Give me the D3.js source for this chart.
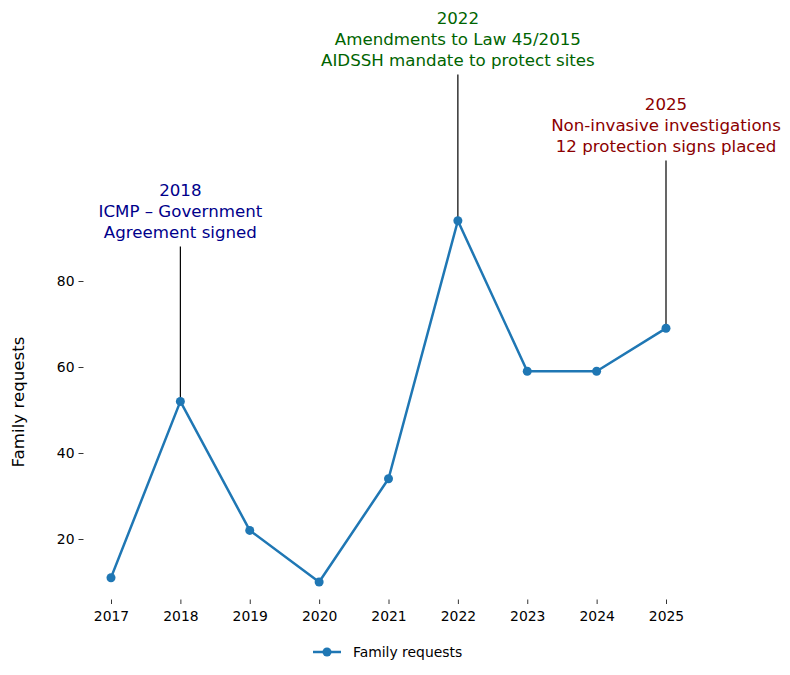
<!DOCTYPE html>
<html>
<head>
<meta charset="utf-8">
<script src="https://cdn.jsdelivr.net/npm/d3@7"></script>
<style>
  html, body { margin: 0; padding: 0; background: #fff; }
  svg { display: block; font-family: "DejaVu Sans", sans-serif; }
</style>
</head>
<body>
<svg id="chart" width="790" height="675"></svg>
<script>
// ---- data ----
const years = [2017, 2018, 2019, 2020, 2021, 2022, 2023, 2024, 2025];
const familyRequests = [11, 52, 22, 10, 34, 94, 59, 59, 69];
const yTicks = [20, 40, 60, 80];
const seriesName = "Family requests";

const annotationYears = [2018, 2022, 2025];
const annotationTextY = [88, 128, 108]; // data-unit level of text bottom
const annotationLines = [
  ["2018", "ICMP – Government", "Agreement signed"],
  ["2022", "Amendments to Law 45/2015", "AIDSSH mandate to protect sites"],
  ["2025", "Non-invasive investigations", "12 protection signs placed"]
];
const annotationColors = ["#00008b", "#006400", "#8b0000"];

// ---- layout ----
const svg = d3.select("#chart");
const x = d3.scalePoint().domain(years).range([111, 666]);
const y = d3.scaleLinear().domain([0, 20]).range([625, 539]);

const color = "#1f77b4";

// y axis (no spine)
const yAxis = svg.append("g")
  .attr("transform", "translate(83.5,0)")
  .call(d3.axisLeft(y).tickValues(yTicks).tickSize(5).tickPadding(4));
yAxis.select(".domain").remove();
yAxis.selectAll("text").attr("font-size", "13.9px").attr("font-family", "DejaVu Sans").attr("fill", "#000");
yAxis.selectAll("line").attr("stroke", "#000").attr("stroke-width", 0.8);

// x axis
const xAxis = svg.append("g")
  .attr("transform", "translate(0,599.5)")
  .call(d3.axisBottom(x).tickSize(4.5).tickPadding(7).tickFormat(d3.format("d")));
xAxis.select(".domain").remove();
xAxis.selectAll("text").attr("font-size", "13.9px").attr("font-family", "DejaVu Sans").attr("fill", "#000");
xAxis.selectAll("line").attr("stroke", "#000").attr("stroke-width", 0.8);

// y label
svg.append("text")
  .attr("transform", "translate(24,402) rotate(-90)")
  .attr("text-anchor", "middle")
  .attr("font-size", "16.67px")
  .attr("fill", "#000")
  .text(seriesName);

// annotations
annotationYears.forEach((yr, i) => {
  const idx = years.indexOf(yr);
  const px = x(yr);
  const py = y(familyRequests[idx]);
  const ty = y(annotationTextY[i]);
  svg.append("line")
    .attr("x1", px).attr("x2", px)
    .attr("y1", ty).attr("y2", py)
    .attr("stroke", "#000").attr("stroke-width", 1.2);
  const lines = annotationLines[i];
  const lh = 21;
  lines.forEach((t, j) => {
    svg.append("text")
      .attr("x", px)
      .attr("y", ty - 9 - (lines.length - 1 - j) * lh)
      .attr("text-anchor", "middle")
      .attr("font-size", "16.67px")
      .attr("fill", annotationColors[i])
      .text(t);
  });
});

// line
const data = years.map((yr, i) => ({ yr, v: familyRequests[i] }));
svg.append("path")
  .datum(data)
  .attr("fill", "none")
  .attr("stroke", color)
  .attr("stroke-width", 2.5)
  .attr("stroke-linejoin", "round")
  .attr("stroke-linecap", "square")
  .attr("d", d3.line().x(d => x(d.yr)).y(d => y(d.v)));

svg.append("g").selectAll("circle")
  .data(data)
  .join("circle")
  .attr("cx", d => x(d.yr))
  .attr("cy", d => y(d.v))
  .attr("r", 4.5)
  .attr("fill", color);

// legend
const lg = svg.append("g").attr("transform", "translate(313,652)");
lg.append("line").attr("x1", 0).attr("x2", 28).attr("y1", 0).attr("y2", 0)
  .attr("stroke", color).attr("stroke-width", 2.5);
lg.append("circle").attr("cx", 14).attr("cy", 0).attr("r", 4.5).attr("fill", color);
lg.append("text").attr("x", 40).attr("y", 5).attr("font-size", "13.9px").attr("fill", "#000")
  .text(seriesName);
</script>
</body>
</html>
